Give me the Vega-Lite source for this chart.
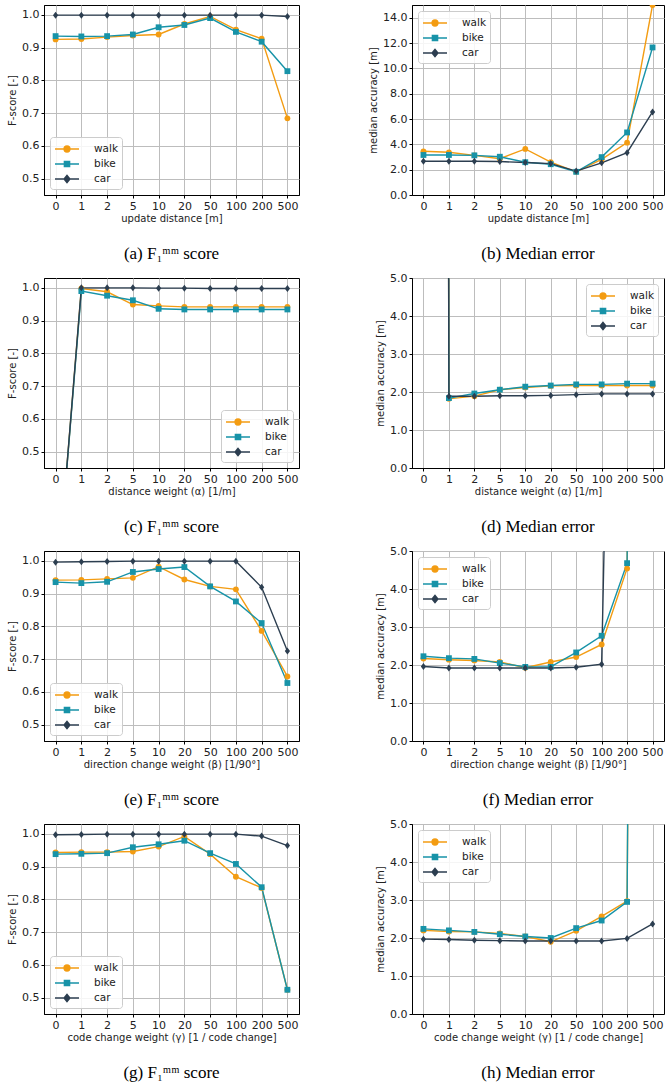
{
  "$schema": "https://vega.github.io/schema/vega-lite/v6.json",
  "padding": {"left": 7, "top": 4, "right": 0, "bottom": 0},
  "background": "white",
  "datasets": {
    "a": [
      {"x":"0","m":"walk","y":0.925},{"x":"1","m":"walk","y":0.926},{"x":"2","m":"walk","y":0.932},{"x":"5","m":"walk","y":0.937},{"x":"10","m":"walk","y":0.940},{"x":"20","m":"walk","y":0.972},{"x":"50","m":"walk","y":0.995},{"x":"100","m":"walk","y":0.955},{"x":"200","m":"walk","y":0.927},{"x":"500","m":"walk","y":0.684},
      {"x":"0","m":"bike","y":0.935},{"x":"1","m":"bike","y":0.934},{"x":"2","m":"bike","y":0.935},{"x":"5","m":"bike","y":0.940},{"x":"10","m":"bike","y":0.962},{"x":"20","m":"bike","y":0.969},{"x":"50","m":"bike","y":0.990},{"x":"100","m":"bike","y":0.948},{"x":"200","m":"bike","y":0.918},{"x":"500","m":"bike","y":0.828},
      {"x":"0","m":"car","y":0.999},{"x":"1","m":"car","y":0.999},{"x":"2","m":"car","y":0.999},{"x":"5","m":"car","y":0.999},{"x":"10","m":"car","y":0.999},{"x":"20","m":"car","y":0.999},{"x":"50","m":"car","y":0.999},{"x":"100","m":"car","y":0.999},{"x":"200","m":"car","y":0.999},{"x":"500","m":"car","y":0.995}
    ],
    "b": [
      {"x":"0","m":"walk","y":3.45},{"x":"1","m":"walk","y":3.37},{"x":"2","m":"walk","y":3.13},{"x":"5","m":"walk","y":2.86},{"x":"10","m":"walk","y":3.64},{"x":"20","m":"walk","y":2.59},{"x":"50","m":"walk","y":1.83},{"x":"100","m":"walk","y":2.81},{"x":"200","m":"walk","y":4.13},{"x":"500","m":"walk","y":15.0},
      {"x":"0","m":"bike","y":3.16},{"x":"1","m":"bike","y":3.16},{"x":"2","m":"bike","y":3.13},{"x":"5","m":"bike","y":3.02},{"x":"10","m":"bike","y":2.59},{"x":"20","m":"bike","y":2.43},{"x":"50","m":"bike","y":1.83},{"x":"100","m":"bike","y":2.99},{"x":"200","m":"bike","y":4.94},{"x":"500","m":"bike","y":11.65},
      {"x":"0","m":"car","y":2.67},{"x":"1","m":"car","y":2.67},{"x":"2","m":"car","y":2.67},{"x":"5","m":"car","y":2.64},{"x":"10","m":"car","y":2.56},{"x":"20","m":"car","y":2.48},{"x":"50","m":"car","y":1.89},{"x":"100","m":"car","y":2.54},{"x":"200","m":"car","y":3.34},{"x":"500","m":"car","y":6.56}
    ],
    "c": [
      {"x":"0","m":"walk","y":0.03},{"x":"1","m":"walk","y":0.998},{"x":"2","m":"walk","y":0.988},{"x":"5","m":"walk","y":0.949},{"x":"10","m":"walk","y":0.945},{"x":"20","m":"walk","y":0.942},{"x":"50","m":"walk","y":0.942},{"x":"100","m":"walk","y":0.942},{"x":"200","m":"walk","y":0.942},{"x":"500","m":"walk","y":0.942},
      {"x":"0","m":"bike","y":0.03},{"x":"1","m":"bike","y":0.990},{"x":"2","m":"bike","y":0.976},{"x":"5","m":"bike","y":0.962},{"x":"10","m":"bike","y":0.936},{"x":"20","m":"bike","y":0.934},{"x":"50","m":"bike","y":0.934},{"x":"100","m":"bike","y":0.934},{"x":"200","m":"bike","y":0.934},{"x":"500","m":"bike","y":0.934},
      {"x":"0","m":"car","y":0.03},{"x":"1","m":"car","y":1.0},{"x":"2","m":"car","y":1.0},{"x":"5","m":"car","y":1.0},{"x":"10","m":"car","y":0.999},{"x":"20","m":"car","y":0.999},{"x":"50","m":"car","y":0.998},{"x":"100","m":"car","y":0.998},{"x":"200","m":"car","y":0.998},{"x":"500","m":"car","y":0.998}
    ],
    "d": [
      {"x":"0","m":"walk","y":300},{"x":"1","m":"walk","y":1.82},{"x":"2","m":"walk","y":1.89},{"x":"5","m":"walk","y":2.06},{"x":"10","m":"walk","y":2.12},{"x":"20","m":"walk","y":2.16},{"x":"50","m":"walk","y":2.17},{"x":"100","m":"walk","y":2.17},{"x":"200","m":"walk","y":2.17},{"x":"500","m":"walk","y":2.17},
      {"x":"0","m":"bike","y":300},{"x":"1","m":"bike","y":1.84},{"x":"2","m":"bike","y":1.96},{"x":"5","m":"bike","y":2.06},{"x":"10","m":"bike","y":2.14},{"x":"20","m":"bike","y":2.17},{"x":"50","m":"bike","y":2.20},{"x":"100","m":"bike","y":2.20},{"x":"200","m":"bike","y":2.22},{"x":"500","m":"bike","y":2.22},
      {"x":"0","m":"car","y":300},{"x":"1","m":"car","y":1.89},{"x":"2","m":"car","y":1.89},{"x":"5","m":"car","y":1.90},{"x":"10","m":"car","y":1.90},{"x":"20","m":"car","y":1.91},{"x":"50","m":"car","y":1.93},{"x":"100","m":"car","y":1.95},{"x":"200","m":"car","y":1.95},{"x":"500","m":"car","y":1.95}
    ],
    "e": [
      {"x":"0","m":"walk","y":0.941},{"x":"1","m":"walk","y":0.942},{"x":"2","m":"walk","y":0.945},{"x":"5","m":"walk","y":0.948},{"x":"10","m":"walk","y":0.982},{"x":"20","m":"walk","y":0.943},{"x":"50","m":"walk","y":0.922},{"x":"100","m":"walk","y":0.913},{"x":"200","m":"walk","y":0.786},{"x":"500","m":"walk","y":0.647},
      {"x":"0","m":"bike","y":0.935},{"x":"1","m":"bike","y":0.932},{"x":"2","m":"bike","y":0.936},{"x":"5","m":"bike","y":0.966},{"x":"10","m":"bike","y":0.975},{"x":"20","m":"bike","y":0.981},{"x":"50","m":"bike","y":0.922},{"x":"100","m":"bike","y":0.876},{"x":"200","m":"bike","y":0.810},{"x":"500","m":"bike","y":0.627},
      {"x":"0","m":"car","y":0.996},{"x":"1","m":"car","y":0.997},{"x":"2","m":"car","y":0.998},{"x":"5","m":"car","y":0.999},{"x":"10","m":"car","y":0.999},{"x":"20","m":"car","y":0.999},{"x":"50","m":"car","y":0.999},{"x":"100","m":"car","y":0.999},{"x":"200","m":"car","y":0.919},{"x":"500","m":"car","y":0.725}
    ],
    "f": [
      {"x":"0","m":"walk","y":2.17},{"x":"1","m":"walk","y":2.14},{"x":"2","m":"walk","y":2.12},{"x":"5","m":"walk","y":2.08},{"x":"10","m":"walk","y":1.93},{"x":"20","m":"walk","y":2.08},{"x":"50","m":"walk","y":2.21},{"x":"100","m":"walk","y":2.54},{"x":"200","m":"walk","y":4.54},{"x":"500","m":"walk","y":80},
      {"x":"0","m":"bike","y":2.23},{"x":"1","m":"bike","y":2.18},{"x":"2","m":"bike","y":2.16},{"x":"5","m":"bike","y":2.05},{"x":"10","m":"bike","y":1.95},{"x":"20","m":"bike","y":1.95},{"x":"50","m":"bike","y":2.33},{"x":"100","m":"bike","y":2.77},{"x":"200","m":"bike","y":4.68},{"x":"500","m":"bike","y":90},
      {"x":"0","m":"car","y":1.96},{"x":"1","m":"car","y":1.92},{"x":"2","m":"car","y":1.92},{"x":"5","m":"car","y":1.92},{"x":"10","m":"car","y":1.92},{"x":"20","m":"car","y":1.92},{"x":"50","m":"car","y":1.94},{"x":"100","m":"car","y":2.02},{"x":"200","m":"car","y":34},{"x":"500","m":"car","y":100}
    ],
    "g": [
      {"x":"0","m":"walk","y":0.943},{"x":"1","m":"walk","y":0.944},{"x":"2","m":"walk","y":0.944},{"x":"5","m":"walk","y":0.946},{"x":"10","m":"walk","y":0.961},{"x":"20","m":"walk","y":0.992},{"x":"50","m":"walk","y":0.938},{"x":"100","m":"walk","y":0.869},{"x":"200","m":"walk","y":0.835},{"x":"500","m":"walk","y":0.524},
      {"x":"0","m":"bike","y":0.938},{"x":"1","m":"bike","y":0.939},{"x":"2","m":"bike","y":0.941},{"x":"5","m":"bike","y":0.959},{"x":"10","m":"bike","y":0.968},{"x":"20","m":"bike","y":0.979},{"x":"50","m":"bike","y":0.941},{"x":"100","m":"bike","y":0.908},{"x":"200","m":"bike","y":0.837},{"x":"500","m":"bike","y":0.524},
      {"x":"0","m":"car","y":0.997},{"x":"1","m":"car","y":0.998},{"x":"2","m":"car","y":0.999},{"x":"5","m":"car","y":0.999},{"x":"10","m":"car","y":0.999},{"x":"20","m":"car","y":0.999},{"x":"50","m":"car","y":0.999},{"x":"100","m":"car","y":0.999},{"x":"200","m":"car","y":0.993},{"x":"500","m":"car","y":0.964}
    ],
    "h": [
      {"x":"0","m":"walk","y":2.20},{"x":"1","m":"walk","y":2.17},{"x":"2","m":"walk","y":2.16},{"x":"5","m":"walk","y":2.12},{"x":"10","m":"walk","y":2.04},{"x":"20","m":"walk","y":1.90},{"x":"50","m":"walk","y":2.19},{"x":"100","m":"walk","y":2.57},{"x":"200","m":"walk","y":2.97},{"x":"500","m":"walk","y":90},
      {"x":"0","m":"bike","y":2.24},{"x":"1","m":"bike","y":2.20},{"x":"2","m":"bike","y":2.16},{"x":"5","m":"bike","y":2.10},{"x":"10","m":"bike","y":2.04},{"x":"20","m":"bike","y":2.00},{"x":"50","m":"bike","y":2.26},{"x":"100","m":"bike","y":2.46},{"x":"200","m":"bike","y":2.95},{"x":"500","m":"bike","y":100},
      {"x":"0","m":"car","y":1.97},{"x":"1","m":"car","y":1.96},{"x":"2","m":"car","y":1.94},{"x":"5","m":"car","y":1.93},{"x":"10","m":"car","y":1.92},{"x":"20","m":"car","y":1.92},{"x":"50","m":"car","y":1.92},{"x":"100","m":"car","y":1.92},{"x":"200","m":"car","y":1.99},{"x":"500","m":"car","y":2.37}
    ]
  },
  "columns": 2,
  "bounds": "flush",
  "spacing": {"row": 83, "column": 113},
  "resolve": {"scale": {"fill": "independent", "stroke": "independent", "shape": "independent"}, "legend": {"fill": "independent", "stroke": "independent", "shape": "independent"}},
  "concat": [
    {
      "width": 255, "height": 190,
      "title": "(a)  F₁ᵐᵐ score",
      "data": {"name": "a"},
      "encoding": {
        "x": {"field": "x", "type": "ordinal", "scale": {"domain": ["0","1","2","5","10","20","50","100","200","500"]}, "axis": {"title": "update distance [m]"}},
        "y": {"field": "y", "type": "quantitative", "scale": {"domain": [0.45, 1.03], "nice": false, "zero": false}, "axis": {"title": "F-score [-]", "values": [0.5,0.6,0.7,0.8,0.9,1.0], "format": ".1f"}},
        "color": {"field": "m", "type": "nominal", "scale": {"domain": ["walk","bike","car"]}, "legend": null}
      },
      "layer": [
        {"mark": {"type": "line", "clip": true}},
        {"transform": [{"filter": "datum.m==='walk'"}], "mark": {"type": "point", "shape": "circle", "clip": true}},
        {"transform": [{"filter": "datum.m==='bike'"}], "mark": {"type": "point", "shape": "square", "clip": true}},
        {"transform": [{"filter": "datum.m==='car'"}], "mark": {"type": "point", "shape": "M0,-1.2L0.9,0L0,1.2L-0.9,0Z", "clip": true}},
        {"transform": [{"filter": "false"}], "mark": {"type": "point", "filled": true}, "encoding": {
          "fill": {"field": "m", "type": "nominal", "scale": {"domain": ["walk","bike","car"]}, "legend": {"title": null, "orient": "bottom-left"}},
          "stroke": {"field": "m", "type": "nominal", "scale": {"domain": ["walk","bike","car"]}, "legend": {"title": null, "orient": "bottom-left"}},
          "shape": {"field": "m", "type": "nominal", "scale": {"domain": ["walk","bike","car"], "range": ["M-1.5,0L1.5,0M0.36,0A0.36,0.36,0,1,1,-0.36,0A0.36,0.36,0,1,1,0.36,0Z", "M-1.5,0L1.5,0M-0.32,-0.32L0.32,-0.32L0.32,0.32L-0.32,0.32Z", "M-1.5,0L1.5,0M0,-0.45L0.36,0L0,0.45L-0.36,0Z"]}, "legend": {"title": null, "orient": "bottom-left"}}}}
      ]
    },
    {
      "width": 252, "height": 190,
      "title": "(b)  Median error",
      "data": {"name": "b"},
      "encoding": {
        "x": {"field": "x", "type": "ordinal", "scale": {"domain": ["0","1","2","5","10","20","50","100","200","500"]}, "axis": {"title": "update distance [m]"}},
        "y": {"field": "y", "type": "quantitative", "scale": {"domain": [0, 15], "nice": false, "zero": false}, "axis": {"title": "median accuracy [m]", "values": [0,2,4,6,8,10,12,14], "format": ".1f"}},
        "color": {"field": "m", "type": "nominal", "scale": {"domain": ["walk","bike","car"]}, "legend": null}
      },
      "layer": [
        {"mark": {"type": "line", "clip": true}},
        {"transform": [{"filter": "datum.m==='walk'"}], "mark": {"type": "point", "shape": "circle", "clip": true}},
        {"transform": [{"filter": "datum.m==='bike'"}], "mark": {"type": "point", "shape": "square", "clip": true}},
        {"transform": [{"filter": "datum.m==='car'"}], "mark": {"type": "point", "shape": "M0,-1.2L0.9,0L0,1.2L-0.9,0Z", "clip": true}},
        {"transform": [{"filter": "false"}], "mark": {"type": "point", "filled": true}, "encoding": {
          "fill": {"field": "m", "type": "nominal", "scale": {"domain": ["walk","bike","car"]}, "legend": {"title": null, "orient": "top-left"}},
          "stroke": {"field": "m", "type": "nominal", "scale": {"domain": ["walk","bike","car"]}, "legend": {"title": null, "orient": "top-left"}},
          "shape": {"field": "m", "type": "nominal", "scale": {"domain": ["walk","bike","car"], "range": ["M-1.5,0L1.5,0M0.36,0A0.36,0.36,0,1,1,-0.36,0A0.36,0.36,0,1,1,0.36,0Z", "M-1.5,0L1.5,0M-0.32,-0.32L0.32,-0.32L0.32,0.32L-0.32,0.32Z", "M-1.5,0L1.5,0M0,-0.45L0.36,0L0,0.45L-0.36,0Z"]}, "legend": {"title": null, "orient": "top-left"}}}}
      ]
    },
    {
      "width": 255, "height": 190,
      "title": "(c)  F₁ᵐᵐ score",
      "data": {"name": "c"},
      "encoding": {
        "x": {"field": "x", "type": "ordinal", "scale": {"domain": ["0","1","2","5","10","20","50","100","200","500"]}, "axis": {"title": "distance weight (α) [1/m]"}},
        "y": {"field": "y", "type": "quantitative", "scale": {"domain": [0.45, 1.03], "nice": false, "zero": false}, "axis": {"title": "F-score [-]", "values": [0.5,0.6,0.7,0.8,0.9,1.0], "format": ".1f"}},
        "color": {"field": "m", "type": "nominal", "scale": {"domain": ["walk","bike","car"]}, "legend": null}
      },
      "layer": [
        {"mark": {"type": "line", "clip": true}},
        {"transform": [{"filter": "datum.m==='walk'"}], "mark": {"type": "point", "shape": "circle", "clip": true}},
        {"transform": [{"filter": "datum.m==='bike'"}], "mark": {"type": "point", "shape": "square", "clip": true}},
        {"transform": [{"filter": "datum.m==='car'"}], "mark": {"type": "point", "shape": "M0,-1.2L0.9,0L0,1.2L-0.9,0Z", "clip": true}},
        {"transform": [{"filter": "false"}], "mark": {"type": "point", "filled": true}, "encoding": {
          "fill": {"field": "m", "type": "nominal", "scale": {"domain": ["walk","bike","car"]}, "legend": {"title": null, "orient": "bottom-right"}},
          "stroke": {"field": "m", "type": "nominal", "scale": {"domain": ["walk","bike","car"]}, "legend": {"title": null, "orient": "bottom-right"}},
          "shape": {"field": "m", "type": "nominal", "scale": {"domain": ["walk","bike","car"], "range": ["M-1.5,0L1.5,0M0.36,0A0.36,0.36,0,1,1,-0.36,0A0.36,0.36,0,1,1,0.36,0Z", "M-1.5,0L1.5,0M-0.32,-0.32L0.32,-0.32L0.32,0.32L-0.32,0.32Z", "M-1.5,0L1.5,0M0,-0.45L0.36,0L0,0.45L-0.36,0Z"]}, "legend": {"title": null, "orient": "bottom-right"}}}}
      ]
    },
    {
      "width": 252, "height": 190,
      "title": "(d)  Median error",
      "data": {"name": "d"},
      "encoding": {
        "x": {"field": "x", "type": "ordinal", "scale": {"domain": ["0","1","2","5","10","20","50","100","200","500"]}, "axis": {"title": "distance weight (α) [1/m]"}},
        "y": {"field": "y", "type": "quantitative", "scale": {"domain": [0, 5], "nice": false, "zero": false}, "axis": {"title": "median accuracy [m]", "values": [0,1,2,3,4,5], "format": ".1f"}},
        "color": {"field": "m", "type": "nominal", "scale": {"domain": ["walk","bike","car"]}, "legend": null}
      },
      "layer": [
        {"mark": {"type": "line", "clip": true}},
        {"transform": [{"filter": "datum.m==='walk'"}], "mark": {"type": "point", "shape": "circle", "clip": true}},
        {"transform": [{"filter": "datum.m==='bike'"}], "mark": {"type": "point", "shape": "square", "clip": true}},
        {"transform": [{"filter": "datum.m==='car'"}], "mark": {"type": "point", "shape": "M0,-1.2L0.9,0L0,1.2L-0.9,0Z", "clip": true}},
        {"transform": [{"filter": "false"}], "mark": {"type": "point", "filled": true}, "encoding": {
          "fill": {"field": "m", "type": "nominal", "scale": {"domain": ["walk","bike","car"]}, "legend": {"title": null, "orient": "top-right"}},
          "stroke": {"field": "m", "type": "nominal", "scale": {"domain": ["walk","bike","car"]}, "legend": {"title": null, "orient": "top-right"}},
          "shape": {"field": "m", "type": "nominal", "scale": {"domain": ["walk","bike","car"], "range": ["M-1.5,0L1.5,0M0.36,0A0.36,0.36,0,1,1,-0.36,0A0.36,0.36,0,1,1,0.36,0Z", "M-1.5,0L1.5,0M-0.32,-0.32L0.32,-0.32L0.32,0.32L-0.32,0.32Z", "M-1.5,0L1.5,0M0,-0.45L0.36,0L0,0.45L-0.36,0Z"]}, "legend": {"title": null, "orient": "top-right"}}}}
      ]
    },
    {
      "width": 255, "height": 190,
      "title": "(e)  F₁ᵐᵐ score",
      "data": {"name": "e"},
      "encoding": {
        "x": {"field": "x", "type": "ordinal", "scale": {"domain": ["0","1","2","5","10","20","50","100","200","500"]}, "axis": {"title": "direction change weight (β) [1/90°]"}},
        "y": {"field": "y", "type": "quantitative", "scale": {"domain": [0.45, 1.03], "nice": false, "zero": false}, "axis": {"title": "F-score [-]", "values": [0.5,0.6,0.7,0.8,0.9,1.0], "format": ".1f"}},
        "color": {"field": "m", "type": "nominal", "scale": {"domain": ["walk","bike","car"]}, "legend": null}
      },
      "layer": [
        {"mark": {"type": "line", "clip": true}},
        {"transform": [{"filter": "datum.m==='walk'"}], "mark": {"type": "point", "shape": "circle", "clip": true}},
        {"transform": [{"filter": "datum.m==='bike'"}], "mark": {"type": "point", "shape": "square", "clip": true}},
        {"transform": [{"filter": "datum.m==='car'"}], "mark": {"type": "point", "shape": "M0,-1.2L0.9,0L0,1.2L-0.9,0Z", "clip": true}},
        {"transform": [{"filter": "false"}], "mark": {"type": "point", "filled": true}, "encoding": {
          "fill": {"field": "m", "type": "nominal", "scale": {"domain": ["walk","bike","car"]}, "legend": {"title": null, "orient": "bottom-left"}},
          "stroke": {"field": "m", "type": "nominal", "scale": {"domain": ["walk","bike","car"]}, "legend": {"title": null, "orient": "bottom-left"}},
          "shape": {"field": "m", "type": "nominal", "scale": {"domain": ["walk","bike","car"], "range": ["M-1.5,0L1.5,0M0.36,0A0.36,0.36,0,1,1,-0.36,0A0.36,0.36,0,1,1,0.36,0Z", "M-1.5,0L1.5,0M-0.32,-0.32L0.32,-0.32L0.32,0.32L-0.32,0.32Z", "M-1.5,0L1.5,0M0,-0.45L0.36,0L0,0.45L-0.36,0Z"]}, "legend": {"title": null, "orient": "bottom-left"}}}}
      ]
    },
    {
      "width": 252, "height": 190,
      "title": "(f)  Median error",
      "data": {"name": "f"},
      "encoding": {
        "x": {"field": "x", "type": "ordinal", "scale": {"domain": ["0","1","2","5","10","20","50","100","200","500"]}, "axis": {"title": "direction change weight (β) [1/90°]"}},
        "y": {"field": "y", "type": "quantitative", "scale": {"domain": [0, 5], "nice": false, "zero": false}, "axis": {"title": "median accuracy [m]", "values": [0,1,2,3,4,5], "format": ".1f"}},
        "color": {"field": "m", "type": "nominal", "scale": {"domain": ["walk","bike","car"]}, "legend": null}
      },
      "layer": [
        {"mark": {"type": "line", "clip": true}},
        {"transform": [{"filter": "datum.m==='walk'"}], "mark": {"type": "point", "shape": "circle", "clip": true}},
        {"transform": [{"filter": "datum.m==='bike'"}], "mark": {"type": "point", "shape": "square", "clip": true}},
        {"transform": [{"filter": "datum.m==='car'"}], "mark": {"type": "point", "shape": "M0,-1.2L0.9,0L0,1.2L-0.9,0Z", "clip": true}},
        {"transform": [{"filter": "false"}], "mark": {"type": "point", "filled": true}, "encoding": {
          "fill": {"field": "m", "type": "nominal", "scale": {"domain": ["walk","bike","car"]}, "legend": {"title": null, "orient": "top-left"}},
          "stroke": {"field": "m", "type": "nominal", "scale": {"domain": ["walk","bike","car"]}, "legend": {"title": null, "orient": "top-left"}},
          "shape": {"field": "m", "type": "nominal", "scale": {"domain": ["walk","bike","car"], "range": ["M-1.5,0L1.5,0M0.36,0A0.36,0.36,0,1,1,-0.36,0A0.36,0.36,0,1,1,0.36,0Z", "M-1.5,0L1.5,0M-0.32,-0.32L0.32,-0.32L0.32,0.32L-0.32,0.32Z", "M-1.5,0L1.5,0M0,-0.45L0.36,0L0,0.45L-0.36,0Z"]}, "legend": {"title": null, "orient": "top-left"}}}}
      ]
    },
    {
      "width": 255, "height": 190,
      "title": "(g)  F₁ᵐᵐ score",
      "data": {"name": "g"},
      "encoding": {
        "x": {"field": "x", "type": "ordinal", "scale": {"domain": ["0","1","2","5","10","20","50","100","200","500"]}, "axis": {"title": "code change weight (γ) [1 / code change]"}},
        "y": {"field": "y", "type": "quantitative", "scale": {"domain": [0.45, 1.03], "nice": false, "zero": false}, "axis": {"title": "F-score [-]", "values": [0.5,0.6,0.7,0.8,0.9,1.0], "format": ".1f"}},
        "color": {"field": "m", "type": "nominal", "scale": {"domain": ["walk","bike","car"]}, "legend": null}
      },
      "layer": [
        {"mark": {"type": "line", "clip": true}},
        {"transform": [{"filter": "datum.m==='walk'"}], "mark": {"type": "point", "shape": "circle", "clip": true}},
        {"transform": [{"filter": "datum.m==='bike'"}], "mark": {"type": "point", "shape": "square", "clip": true}},
        {"transform": [{"filter": "datum.m==='car'"}], "mark": {"type": "point", "shape": "M0,-1.2L0.9,0L0,1.2L-0.9,0Z", "clip": true}},
        {"transform": [{"filter": "false"}], "mark": {"type": "point", "filled": true}, "encoding": {
          "fill": {"field": "m", "type": "nominal", "scale": {"domain": ["walk","bike","car"]}, "legend": {"title": null, "orient": "bottom-left"}},
          "stroke": {"field": "m", "type": "nominal", "scale": {"domain": ["walk","bike","car"]}, "legend": {"title": null, "orient": "bottom-left"}},
          "shape": {"field": "m", "type": "nominal", "scale": {"domain": ["walk","bike","car"], "range": ["M-1.5,0L1.5,0M0.36,0A0.36,0.36,0,1,1,-0.36,0A0.36,0.36,0,1,1,0.36,0Z", "M-1.5,0L1.5,0M-0.32,-0.32L0.32,-0.32L0.32,0.32L-0.32,0.32Z", "M-1.5,0L1.5,0M0,-0.45L0.36,0L0,0.45L-0.36,0Z"]}, "legend": {"title": null, "orient": "bottom-left"}}}}
      ]
    },
    {
      "width": 252, "height": 190,
      "title": "(h)  Median error",
      "data": {"name": "h"},
      "encoding": {
        "x": {"field": "x", "type": "ordinal", "scale": {"domain": ["0","1","2","5","10","20","50","100","200","500"]}, "axis": {"title": "code change weight (γ) [1 / code change]"}},
        "y": {"field": "y", "type": "quantitative", "scale": {"domain": [0, 5], "nice": false, "zero": false}, "axis": {"title": "median accuracy [m]", "values": [0,1,2,3,4,5], "format": ".1f"}},
        "color": {"field": "m", "type": "nominal", "scale": {"domain": ["walk","bike","car"]}, "legend": null}
      },
      "layer": [
        {"mark": {"type": "line", "clip": true}},
        {"transform": [{"filter": "datum.m==='walk'"}], "mark": {"type": "point", "shape": "circle", "clip": true}},
        {"transform": [{"filter": "datum.m==='bike'"}], "mark": {"type": "point", "shape": "square", "clip": true}},
        {"transform": [{"filter": "datum.m==='car'"}], "mark": {"type": "point", "shape": "M0,-1.2L0.9,0L0,1.2L-0.9,0Z", "clip": true}},
        {"transform": [{"filter": "false"}], "mark": {"type": "point", "filled": true}, "encoding": {
          "fill": {"field": "m", "type": "nominal", "scale": {"domain": ["walk","bike","car"]}, "legend": {"title": null, "orient": "top-left"}},
          "stroke": {"field": "m", "type": "nominal", "scale": {"domain": ["walk","bike","car"]}, "legend": {"title": null, "orient": "top-left"}},
          "shape": {"field": "m", "type": "nominal", "scale": {"domain": ["walk","bike","car"], "range": ["M-1.5,0L1.5,0M0.36,0A0.36,0.36,0,1,1,-0.36,0A0.36,0.36,0,1,1,0.36,0Z", "M-1.5,0L1.5,0M-0.32,-0.32L0.32,-0.32L0.32,0.32L-0.32,0.32Z", "M-1.5,0L1.5,0M0,-0.45L0.36,0L0,0.45L-0.36,0Z"]}, "legend": {"title": null, "orient": "top-left"}}}}
      ]
    }
  ],
  "config": {
    "font": "DejaVu Sans",
    "view": {"stroke": "black", "strokeWidth": 1},
    "scale": {"pointPadding": 0.45},
    "range": {
      "category": ["#f39c12", "#1793a8", "#2c3e50"]
    },
    "axis": {
      "grid": true, "gridColor": "#bdbdbd", "gridWidth": 1,
      "domainColor": "black", "tickColor": "black", "tickSize": 3,
      "labelFont": "DejaVu Sans", "labelFontSize": 11, "labelColor": "#222222", "labelPadding": 2,
      "titleFont": "DejaVu Sans", "titleFontSize": 10, "titleFontWeight": "normal", "titleColor": "#222222", "titlePadding": 4
    },
    "axisX": {"labelAngle": 0, "titlePadding": 2},
    "title": {"font": "Liberation Serif", "fontSize": 17, "fontWeight": "normal", "color": "black", "orient": "bottom", "anchor": "middle", "offset": 23},
    "legend": {
      "padding": 3, "symbolSize": 256, "symbolOffset": 5, "labelOffset": 18, "rowPadding": 0, "symbolStrokeWidth": 1.5,
      "labelFont": "DejaVu Sans", "labelFontSize": 10.5, "labelColor": "#222222",
      "fillColor": "rgba(255,255,255,0.85)", "strokeColor": "#cccccc", "cornerRadius": 3, "offset": 6
    },
    "line": {"strokeWidth": 1.4},
    "point": {"filled": true, "size": 34, "opacity": 1}
  }
}
